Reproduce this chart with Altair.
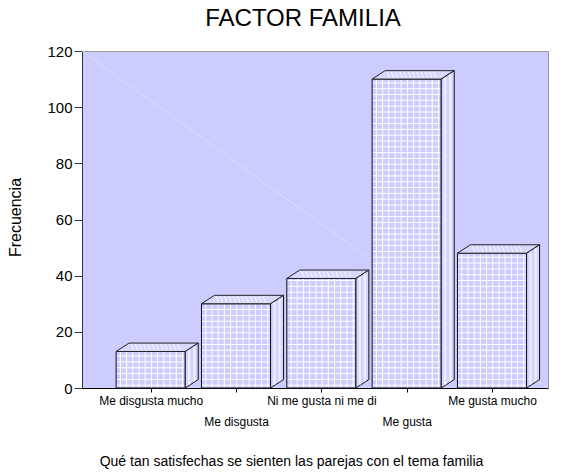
import altair as alt
import pandas as pd

categories = ["Me disgusta mucho", "Me disgusta", "Ni me gusta ni me di", "Me gusta", "Me gusta mucho"]
freq = [13, 30, 39, 110, 48]
y_ticks = [0, 20, 40, 60, 80, 100, 120]

# geometry of the pseudo-3D bars (in data units)
HW = 0.405      # half width of the front face (index units)
DX = 0.152      # depth offset in x (index units)
DY = 3.0        # depth offset in y (frequency units)
XDOM = [-0.805, 4.656]
YDOM = [0, 120]

BG = "#CCCCFF"
FONT = "Liberation Sans"

front = pd.DataFrame({"i": list(range(len(freq))), "cat": categories, "h": freq})
front["x0"] = front["i"] - HW
front["x1"] = front["i"] + HW
front["zero"] = 0

top_rows, side_rows, hlines, vlines, hatch, stripes = [], [], [], [], [], []
for i, h in enumerate(freq):
    x0, x1 = i - HW, i + HW
    top_rows += [
        dict(b=i, x=x0, y=h, y2=h),
        dict(b=i, x=x0 + DX, y=h, y2=h + DY),
        dict(b=i, x=x1, y=h, y2=h + DY),
        dict(b=i, x=x1 + DX, y=h + DY, y2=h + DY),
    ]
    side_rows += [
        dict(b=i, x=x1, y=0, y2=h),
        dict(b=i, x=x1 + DX, y=DY, y2=h + DY),
    ]
    yy = 1.0
    while yy < h - 0.6:
        hlines.append(dict(b=i, x=x0, x2=x1, y=yy))
        yy += 2.07
    xx = x0 + 0.05
    while xx < x1 - 0.02:
        vlines.append(dict(b=i, x=xx, y=0, y2=h))
        xx += 0.0727
    a = x0 + DX + 0.02
    while a < x1 - 0.04:
        hatch.append(dict(b=i, x=a, y=h + DY - 0.4, x2=a + 0.03, y2=h + 0.4))
        a += 0.05
    for f in (0.3, 0.7):
        stripes.append(dict(b=i, x=x1 + f * DX, y=f * DY + 0.3, y2=h + f * DY - 0.3))

xs = alt.Scale(domain=XDOM, nice=False, zero=False)
ys = alt.Scale(domain=YDOM, nice=False)

label_list = "[" + ",".join("'" + c + "'" for c in categories) + "]"
label_expr = (
    f"datum.value % 2 == 1 ? ['', {label_list}[datum.value]] : {label_list}[datum.value]"
)

x_axis = alt.Axis(
    values=list(range(len(categories))),
    labelExpr=label_expr,
    grid=False,
    tickSize=4,
    labelPadding=3,
    labelFontSize=12,
    labelLineHeight=21,
    labelFont=FONT,
    labelColor="black",
    labelFlush=False,
    labelOverlap=False,
    domainColor="black",
    tickColor="black",
    title="Qué tan satisfechas se sienten las parejas con el tema familia",
    titleFont=FONT,
    titleFontSize=14,
    titleFontWeight="normal",
    titleColor="black",
    titleX=209,
    titleY=66,
    titleAlign="center",
    titleBaseline="top",
)
y_axis = alt.Axis(
    values=y_ticks,
    grid=False,
    tickSize=8,
    labelPadding=2,
    labelFontSize=15,
    labelFont=FONT,
    labelColor="black",
    labelFlush=False,
    domainColor="#333333",
    tickColor="#333333",
    title="Frecuencia",
    titleFont=FONT,
    titleFontSize=16,
    titleFontWeight="normal",
    titleColor="black",
    titleX=-67,
    titleY=166,
    titleAlign="center",
    titleBaseline="middle",
    titleAngle=-90,
)


def X(field):
    return alt.X(field, scale=xs, axis=x_axis)


def Y(field):
    return alt.Y(field, scale=ys, axis=y_axis)


diag_df = pd.DataFrame({"x": XDOM, "y": [YDOM[1], YDOM[0]]})
diag = alt.Chart(diag_df).mark_line(color="#DCDCFF", strokeWidth=1).encode(
    x=X("x:Q"), y=Y("y:Q"),
)

front_fill = alt.Chart(front).mark_rect(fill=BG, strokeWidth=0).encode(
    x=X("x0:Q"), x2="x1:Q", y=Y("zero:Q"), y2="h:Q",
)

hl = alt.Chart(pd.DataFrame(hlines)).mark_rule(color="white", strokeWidth=1).encode(
    x=X("x:Q"), x2="x2:Q", y=Y("y:Q"),
)
vl = alt.Chart(pd.DataFrame(vlines)).mark_rule(color="white", strokeWidth=1).encode(
    x=X("x:Q"), y=Y("y:Q"), y2="y2:Q",
)

front_edge = alt.Chart(front).mark_rect(fillOpacity=0, stroke="#111111", strokeWidth=1).encode(
    x=X("x0:Q"), x2="x1:Q", y=Y("zero:Q"), y2="h:Q",
)

top = alt.Chart(pd.DataFrame(top_rows)).mark_area(
    orient="vertical", fill="#D8D8FF", stroke="#222222", strokeWidth=1, interpolate="linear"
).encode(
    x=X("x:Q"), y=Y("y:Q"), y2="y2:Q", detail="b:N",
)
hatch_l = alt.Chart(pd.DataFrame(hatch)).mark_rule(color="white", strokeWidth=1, opacity=0.8).encode(
    x=X("x:Q"), x2="x2:Q", y=Y("y:Q"), y2="y2:Q",
)
side = alt.Chart(pd.DataFrame(side_rows)).mark_area(
    orient="vertical", fill="#D4D4FF", stroke="#111111", strokeWidth=1, interpolate="linear"
).encode(
    x=X("x:Q"), y=Y("y:Q"), y2="y2:Q", detail="b:N",
)
stripe_l = alt.Chart(pd.DataFrame(stripes)).mark_rule(color="#F0F0FF", strokeWidth=2).encode(
    x=X("x:Q"), y=Y("y:Q"), y2="y2:Q",
)

chart = alt.layer(
    diag, front_fill, hl, vl, front_edge, top, hatch_l, side, stripe_l
).properties(
    width=466,
    height=337,
    autosize=alt.AutoSizeParams(type="none"),
    padding={"left": 74, "top": 43, "right": 12, "bottom": 84},
    title=alt.TitleParams(
        "FACTOR FAMILIA", font=FONT, fontSize=24, fontWeight="normal", color="black",
        anchor="middle", frame="group", dx=-12, offset=13,
    ),
).configure(
    background="white"
).configure_view(
    fill=BG, stroke="#999999", strokeWidth=1
)

chart.save("out.html", embed_options={"renderer": "svg", "actions": False})
